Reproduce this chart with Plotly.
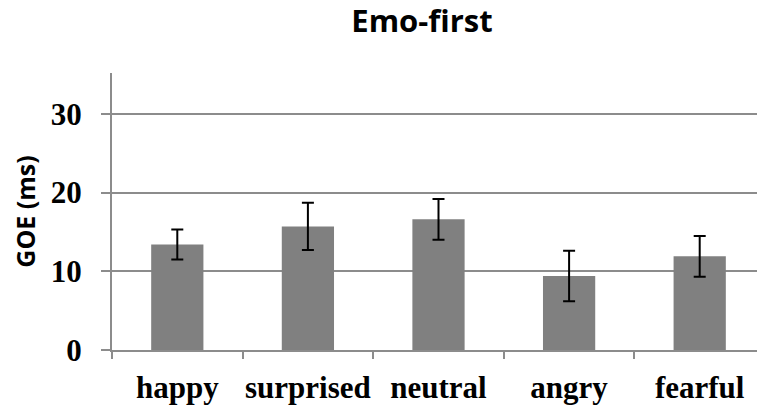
import plotly.graph_objects as go

categories = ["happy", "surprised", "neutral", "angry", "fearful"]
goe_values = [13.4, 15.7, 16.6, 9.4, 11.9]
goe_errors = [1.9, 3.0, 2.6, 3.2, 2.6]
y_ticks = [0, 10, 20, 30]

# the page body adds an 8px offset; figure is sized to end at the window edge
W, H = 757, 400
L, T, B = 104, 65, 58

fig = go.Figure()
fig.add_trace(go.Bar(
    x=categories,
    y=goe_values,
    marker=dict(color="#808080", line=dict(width=0)),
    error_y=dict(type="data", array=goe_errors, visible=True,
                 color="black", thickness=2, width=6),
    width=0.4,
))

fig.update_layout(
    width=W, height=H,
    margin=dict(l=L, r=0, t=T, b=B),
    paper_bgcolor="white", plot_bgcolor="white",
    showlegend=False,
    title=dict(text="Emo-first", x=414 / W,
               xanchor="center", y=1 - 2 / H, yanchor="top", pad=dict(t=0, b=0),
               font=dict(family="Open Sans", size=31, color="black", weight="bold")),
    xaxis=dict(
        type="category", range=[-0.5, 4.5], automargin=False,
        showline=True, linecolor="#8c8c8c", linewidth=2,
        ticks="outside", tickson="boundaries", ticklen=7, tickcolor="#8c8c8c", tickwidth=2,
        tickangle=0, ticklabelstandoff=9,
        tickfont=dict(family="Liberation Serif", size=31, color="black", weight="bold"),
        showgrid=False,
    ),
    yaxis=dict(
        range=[0, 35.2], tickvals=y_ticks, automargin=False,
        showline=True, linecolor="#8c8c8c", linewidth=2,
        ticks="outside", ticklen=9, tickcolor="#8c8c8c", tickwidth=2,
        tickfont=dict(family="Liberation Serif", size=31, color="black", weight="bold"),
        ticklabelstandoff=13,
        showgrid=True, gridcolor="#8c8c8c", gridwidth=2,
        zeroline=False,
        title=dict(text="GOE (ms)", standoff=12,
                   font=dict(family="Open Sans", size=25, color="black", weight="bold")),
    ),
)

fig.write_html("out.html")
